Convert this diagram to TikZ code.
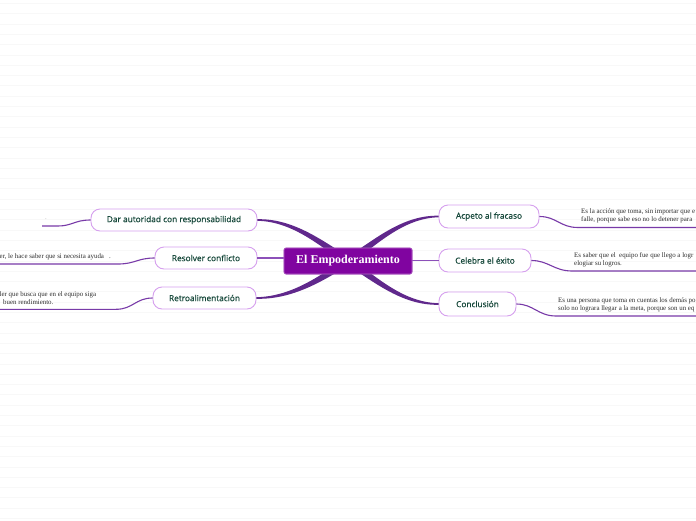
\documentclass[tikz,border=0pt]{standalone}
\usepackage{fontspec}
\setmainfont{Liberation Serif}
\newfontfamily\branchfont{Open Sans}[FakeBold=0.6]
\usetikzlibrary{calc}
\definecolor{centerfill}{RGB}{128,4,160}
\definecolor{trunk}{RGB}{96,40,140}
\definecolor{twig}{RGB}{140,80,185}
\definecolor{leafline}{RGB}{120,58,168}
\definecolor{branchborder}{RGB}{214,160,238}
\definecolor{branchtext}{RGB}{22,72,58}
\definecolor{leaftext}{RGB}{45,45,45}
\definecolor{bgline}{RGB}{248,248,248}
\tikzset{
  branchbox/.style={draw=branchborder, line width=0.9pt, fill=white, rounded corners=9pt,
    inner sep=0pt, minimum height=22pt, text=branchtext,
    font=\branchfont\fontsize{8.3}{10}\selectfont},
  centerbox/.style={fill=centerfill, draw=centerfill!60!white, line width=0.6pt, rounded corners=2pt,
    inner sep=0pt, minimum width=128pt, minimum height=26pt, text=white,
    font=\bfseries\fontsize{12}{14}\selectfont},
  leafnote/.style={inner sep=0pt, align=left, text=leaftext,
    font=\fontsize{6.9}{8.2}\selectfont},
  leafcurve/.style={draw=leafline, line width=1.1pt},
  twigline/.style={draw=twig, line width=1.8pt},
}
% tapered connector: #1 start (branch side), #2 control 1, #3 control 2, #4 end (centre)
\newcommand\mmtaper[4]{%
  \fill[trunk] ($(#1)+(0,-0.8)$) .. controls ($(#2)+(0,-1.5)$) and ($(#3)+(0,-3.5)$) .. ($(#4)+(0,-4.5)$)
     -- ($(#4)+(0,4.5)$) .. controls ($(#3)+(0,3.5)$) and ($(#2)+(0,1.5)$) .. ($(#1)+(0,0.8)$) -- cycle;}
\begin{document}
\begin{tikzpicture}[x=1pt,y=-1pt]
\useasboundingbox (0,0) rectangle (696,520);
\clip (0,0) rectangle (696,520);
\fill[white] (0,0) rectangle (696,520);
\foreach \i in {0,...,50} {
  \draw[bgline, line width=0.6pt] (0,3.3+10.3*\i) -- (696,3.3+10.3*\i);
}
% nodes
\node[centerbox] (c) at (348,261) {El Empoderamiento};
\node[branchbox, minimum width=166pt] (dar) at (174,220) {Dar autoridad con responsabilidad};
\node[branchbox, minimum width=102pt] (res) at (206,258) {Resolver conflicto};
\node[branchbox, minimum width=103pt] (ret) at (204.5,298) {Retroalimentación};
\node[branchbox, minimum width=100pt, minimum height=23pt] (acp) at (489,216.5) {Acpeto al fracaso};
\node[branchbox, minimum width=92pt, minimum height=23pt] (cel) at (485,260.5) {Celebra el éxito};
\node[branchbox, minimum width=77pt, minimum height=24pt] (con) at (477.5,304) {Conclusión};
% trunk connectors (behind centre node)
\coordinate (cc) at (c.center);
\coordinate (d1) at ($(dar.east)+(36,0)$);
\coordinate (d2) at (322,244);
\coordinate (r1) at ($(ret.east)+(36,0)$);
\coordinate (r2) at (322,278);
\coordinate (a1) at ($(acp.west)+(-36,0)$);
\coordinate (a2) at (375,243);
\coordinate (k1) at ($(con.west)+(-36,0)$);
\coordinate (k2) at (375,279);
\mmtaper{dar.east}{d1}{d2}{cc}
\mmtaper{ret.east}{r1}{r2}{cc}
\mmtaper{acp.west}{a1}{a2}{cc}
\mmtaper{con.west}{k1}{k2}{cc}
\draw[twigline] (res.east) -- (res.east -| cc);
\draw[twigline] (cel.west) -- (cel.west -| cc);
% redraw centre node on top
\node[centerbox] at (c) {El Empoderamiento};
% leaf connectors
\coordinate (acpL) at (578,227.5); \coordinate (acpE) at (700,227.5);
\coordinate (celL) at (572,271);   \coordinate (celE) at (700,271);
\coordinate (conL) at (556,316);   \coordinate (conE) at (700,316);
\coordinate (darL) at (58,226);    \coordinate (darE) at (42,226);
\coordinate (resL) at (118,264);   \coordinate (resE) at (-5,264);
\coordinate (retL) at (116,309.3); \coordinate (retE) at (-5,309.3);
\draw[leafcurve] (acp.east) .. controls ($(acp.east)+(17,0)$) and ($(acpL)+(-18,0)$) .. (acpL) -- (acpE);
\draw[leafcurve] (cel.east) .. controls ($(cel.east)+(17,0)$) and ($(celL)+(-18,0)$) .. (celL) -- (celE);
\draw[leafcurve] (con.east) .. controls ($(con.east)+(17,0)$) and ($(conL)+(-18,0)$) .. (conL) -- (conE);
\draw[leafcurve] (dar.west) .. controls ($(dar.west)+(-16,0)$) and ($(darL)+(14,0)$) .. (darL) -- (darE);
\draw[leafcurve] (res.west) .. controls ($(res.west)+(-17,0)$) and ($(resL)+(17,0)$) .. (resL) -- (resE);
\draw[leafcurve] (ret.west) .. controls ($(ret.west)+(-17,0)$) and ($(retL)+(17,0)$) .. (retL) -- (retE);
% leaf texts
\node[leafnote, anchor=west] (acpT) at (581,216) {Es la acción que toma, sin importar que e\\falle, porque sabe eso no lo detener para};
\node[leafnote, anchor=west] (celT) at (574,260) {Es saber que el \ equipo fue que llego a logr\\elogiar su logros.};
\node[leafnote, anchor=west] (conT) at (558,305) {Es una persona que toma en cuentas los demás po\\solo no lograra llegar a la meta, porque son un eq};
\node[leafnote, anchor=west] (resT) at (-0.5,256.7) {er, le hace saber que si necesita ayuda \ \ .};
\node[leafnote, anchor=west] (retT) at (-0.5,298) {ler que busca que en el equipo siga\\\hspace*{3.5pt}buen rendimiento.};
\node[leafnote, anchor=center, text=black!55, font=\fontsize{5}{6}\selectfont] (darT) at (46,219) {.};
\end{tikzpicture}
\end{document}
